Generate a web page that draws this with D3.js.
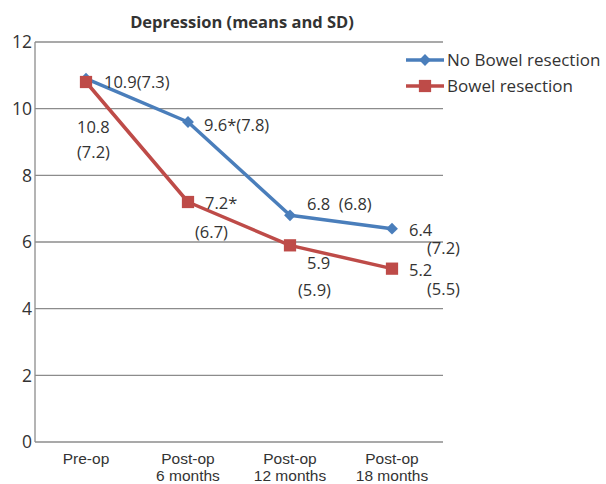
<!DOCTYPE html>
<html><head><meta charset="utf-8">
<script src="https://cdn.jsdelivr.net/npm/d3@7"></script>
<style>body{margin:0;background:#fff}text{font-family:"Open Sans",sans-serif;fill:#333}</style>
</head><body><svg id="c" width="606" height="484"></svg>
<script>
const categories = ["Pre-op", "Post-op\n6 months", "Post-op\n12 months", "Post-op\n18 months"];
const seriesNames = ["No Bowel resection", "Bowel resection"];
const noBowel = [10.9, 9.6, 6.8, 6.4];
const bowel = [10.8, 7.2, 5.9, 5.2];
const noBowelLabels = [["10.9(7.3)"], ["9.6*(7.8)"], ["6.8  (6.8)"], ["6.4", "(7.2)"]];
const bowelLabels = [["10.8", "(7.2)"], ["7.2*", "(6.7)"], ["5.9", "(5.9)"], ["5.2", "(5.5)"]];
const yTicks = [0, 2, 4, 6, 8, 10, 12];
const colors = ["#4A7EBB", "#BE4B48"];
// label layout offsets (dx, dy per line) relative to point
const noBowelLabelPos = [[[18, 3]], [[16, 3]], [[17, -11]], [[17, 1], [35, 19]]];
const bowelLabelPos = [[[-9, 45], [-9, 70]], [[17, 1], [7, 30]], [[17, 18], [8, 45]], [[17, 1], [35, 20]]];

const svg = d3.select("#c");
const L = 35, R = 443, T = 42, B = 442;
const x = d3.scaleBand().domain(categories).range([L, R]);
const cx = d => x(d) + x.bandwidth() / 2;
const y = d3.scaleLinear().domain([0, 12]).range([B, T]);

svg.append("g").selectAll("line").data(yTicks).join("line")
  .attr("x1", L).attr("x2", R).attr("y1", d => y(d)).attr("y2", d => y(d))
  .attr("stroke", "#8c8c8c").attr("stroke-width", 1.3);
svg.append("line").attr("x1", L).attr("x2", L).attr("y1", T).attr("y2", B)
  .attr("stroke", "#8c8c8c").attr("stroke-width", 1.3);
svg.append("g").selectAll("text").data(yTicks).join("text")
  .attr("x", 32).attr("y", d => y(d)).attr("dy", "0.36em").attr("text-anchor", "end")
  .attr("font-size", 17.5).text(d => d);
// x labels: one text per line
const xg = svg.append("g");
categories.forEach(c => {
  c.split("\n").forEach((s, i) => {
    xg.append("text").attr("x", cx(c)).attr("y", 463.5 + i * 17).attr("text-anchor", "middle")
      .style("font-family", "'Liberation Sans', Arial, sans-serif").attr("font-size", 15.5).text(s);
  });
});
svg.append("text").attr("x", 242).attr("y", 28).attr("text-anchor", "middle")
  .attr("font-size", 16.5).attr("font-weight", "bold").text("Depression (means and SD)");

const line = d3.line().x((d, i) => cx(categories[i])).y(d => y(d));
[noBowel, bowel].forEach((s, k) => {
  svg.append("path").datum(s).attr("d", line).attr("fill", "none")
    .attr("stroke", colors[k]).attr("stroke-width", 3.5).attr("stroke-linejoin", "round");
});
const dia = d3.symbol().type(d3.symbolSquare).size(70);
const square = d3.symbol().type(d3.symbolSquare).size(150);
svg.append("g").selectAll("path").data(noBowel).join("path")
  .attr("d", dia).attr("transform", (d, i) => `translate(${cx(categories[i])},${y(d)}) rotate(45)`)
  .attr("fill", colors[0]);
svg.append("g").selectAll("path").data(bowel).join("path")
  .attr("transform", (d, i) => `translate(${cx(categories[i])},${y(d)})`)
  .attr("d", square).attr("fill", colors[1]);

function labels(vals, labs, pos) {
  vals.forEach((v, i) => {
    labs[i].forEach((t, j) => {
      svg.append("text").attr("x", cx(categories[i]) + pos[i][j][0]).attr("y", y(v) + pos[i][j][1])
        .attr("dy", "0.36em").attr("font-size", 16.5).style("white-space", "pre").text(t);
    });
  });
}
labels(noBowel, noBowelLabels, noBowelLabelPos);
labels(bowel, bowelLabels, bowelLabelPos);

const lg = svg.append("g");
seriesNames.forEach((n, k) => {
  const ly = 60 + k * 26;
  lg.append("line").attr("x1", 406).attr("x2", 444).attr("y1", ly).attr("y2", ly)
    .attr("stroke", colors[k]).attr("stroke-width", 3.5);
  if (k === 0) lg.append("path").attr("d", dia).attr("transform", `translate(425,${ly}) rotate(45)`).attr("fill", colors[0]);
  else lg.append("path").attr("d", square).attr("transform", `translate(425,${ly})`).attr("fill", colors[1]);
  lg.append("text").attr("x", 447).attr("y", ly).attr("dy", "0.36em").attr("font-size", 17).text(n);
});
</script></body></html>
